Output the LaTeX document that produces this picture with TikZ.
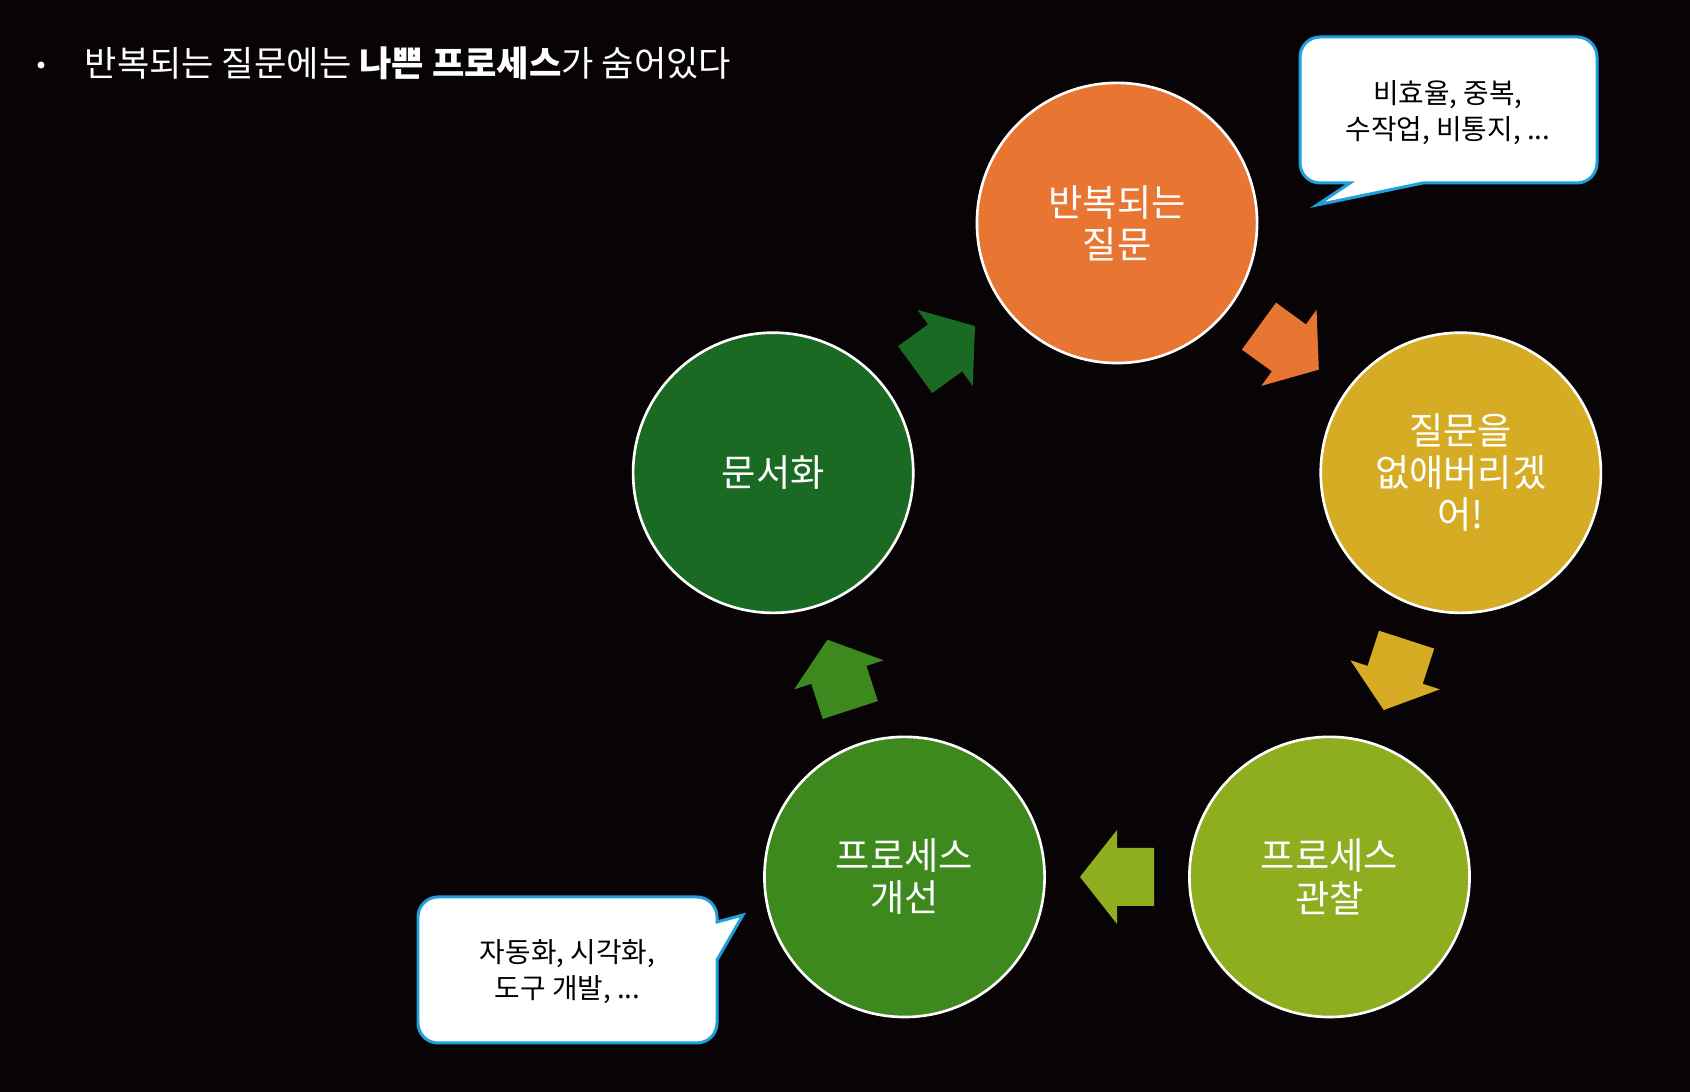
\documentclass[tikz,border=0pt]{standalone}
\usepackage{fontspec}
\setmainfont{Noto Sans CJK KR}
\usetikzlibrary{calc}

\definecolor{bgblack}{RGB}{8,4,5}
\definecolor{cycorange}{RGB}{233,117,51}
\definecolor{cycgold}{RGB}{213,172,35}
\definecolor{cyclime}{RGB}{142,174,32}
\definecolor{cycgreen}{RGB}{62,137,30}
\definecolor{cycdark}{RGB}{26,106,36}
\definecolor{notecyan}{RGB}{28,160,222}

\begin{document}
\begin{tikzpicture}[x=0.01cm, y=0.01cm,
	stage/.style={circle, draw=white, line width=0.75pt, minimum size=2.8cm, inner sep=0pt,
		align=center, text=white, font=\fontsize{10.6}{12}\selectfont},
	note/.style={align=center, text=black, font=\fontsize{7.9}{10.3}\selectfont},
	bubble/.style={fill=white, draw=notecyan, line width=0.85pt}]
	
	% 배경
	\fill[bgblack] (0,0) rectangle (1690,1092);
	\useasboundingbox (0,0) rectangle (1690,1092);
	
	% 제목
	\node[circle, fill=white, inner sep=0pt, minimum size=0.07cm] (dot) at (41,1027) {};
	\node[anchor=west, inner sep=0pt, text=white, font=\fontsize{10}{12}\selectfont] (title) at (84,1029)
	{반복되는 질문에는 \textbf{나쁜 프로세스}가 숨어있다};
	
	% 순환 원
	\def\R{361.5} % 오각형 반지름
	\coordinate (hub) at (1117,507.5);
	\node[stage, fill=cycorange] (repeat) at ($(hub)+(90:\R)$) {반복되는\\질문};
	\node[stage, fill=cycgold] (remove) at ($(hub)+(18:\R)$) {질문을\\없애버리겠\\어!};
	\node[stage, fill=cyclime] (observe) at ($(hub)+(-54:\R)$) {프로세스\\관찰};
	\node[stage, fill=cycgreen] (improve) at ($(hub)+(-126:\R)$) {프로세스\\개선};
	\node[stage, fill=cycdark] (document) at ($(hub)+(162:\R)$) {문서화};
	
	% 블록 화살표
	\foreach \from/\to/\ang/\col in {repeat/remove/-36/cycorange, remove/observe/-108/cycgold,
		observe/improve/180/cyclime, improve/document/108/cycgreen, document/repeat/36/cycdark}
	\fill[\col, shift={($(\from)!0.5!(\to)$)}, rotate=\ang]
	(-37,-29) -- (0,-29) -- (0,-47) -- (37,0) -- (0,47) -- (0,29) -- (-37,29) -- cycle;
	
	% 말풍선
	\draw[bubble] (1423,909) [rounded corners=0.2cm] -- (1597,909) -- (1597,1055) -- (1300,1055)
	-- (1300,909) [sharp corners] -- (1350,909) -- (1317,887) -- cycle;
	\node[note] (note1) at (1448,979) {비효율, 중복,\\수작업, 비통지, ...};
	
	\draw[bubble] (717,132) [rounded corners=0.2cm] -- (717,49) -- (418,49) -- (418,195)
	-- (717,195) [sharp corners] -- (717,170) -- (743,177) -- cycle;
	\node[note] (note2) at (567.5,120) {자동화, 시각화,\\도구 개발, ...};
	
\end{tikzpicture}
\end{document}
